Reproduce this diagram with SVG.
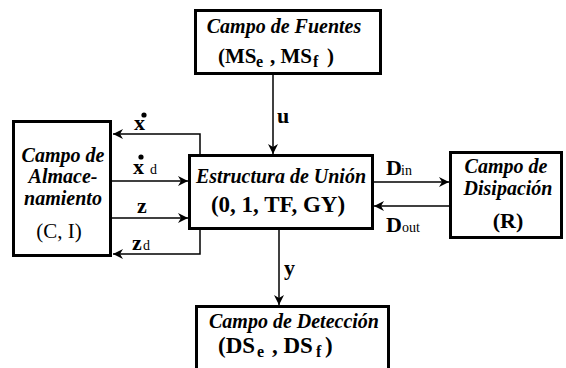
<svg xmlns="http://www.w3.org/2000/svg" width="566" height="368" viewBox="0 0 566 368">
<defs>
<style>
text{font-family:Liberation Serif,serif;fill:#000}
.box{fill:#fff;stroke:#000;stroke-width:3}
.con{fill:none;stroke:#000;stroke-width:1.5}
.ti{font-weight:bold;font-style:italic;font-size:20px}
.b{font-weight:bold;font-size:22px}
.r{font-size:21px}
.sub{font-size:14px}
.subb{font-weight:bold;font-size:16px}
</style>
<marker id="ah" markerUnits="userSpaceOnUse" markerWidth="10" markerHeight="10" refX="10" refY="5" orient="auto">
<path d="M0,0 L10,5 L0,10 L3,5 z" fill="#000"/>
</marker>
</defs>
<rect width="566" height="368" fill="#fff"/>
<g id="connectors" font-family="Liberation Serif">
<path class="con" d="M273,75 V154" marker-end="url(#ah)"/>
<path class="con" d="M279,229 V305" marker-end="url(#ah)"/>
<path class="con" d="M200,155 V134 H113" marker-end="url(#ah)"/>
<path class="con" d="M112,181 H188" marker-end="url(#ah)"/>
<path class="con" d="M112,218 H188" marker-end="url(#ah)"/>
<path class="con" d="M200,229 V254 H113" marker-end="url(#ah)"/>
<path class="con" d="M374,182 H449" marker-end="url(#ah)"/>
<path class="con" d="M449,206 H374" marker-end="url(#ah)"/>
<text class="b" x="277" y="123">u</text>
<text class="b" x="284" y="275">y</text>
<text class="b" x="134" y="130">x</text>
<circle cx="144" cy="115" r="2.6" fill="#000"/>
<text class="b" x="133" y="174">x</text>
<circle cx="141" cy="157" r="2.6" fill="#000"/>
<text class="sub" x="150" y="174">d</text>
<text class="b" x="137" y="213">z</text>
<text class="b" x="132" y="250">z</text>
<text class="sub" x="143" y="250">d</text>
<text class="b" x="386" y="175">D</text>
<text class="sub" x="401" y="175">in</text>
<text class="b" x="386" y="232">D</text>
<text class="sub" x="402" y="232">out</text>
</g>
<g id="fuentes" font-family="Liberation Serif">
<rect class="box" x="195.5" y="10.5" width="185" height="63"/>
<text class="ti" x="284" y="33" text-anchor="middle">Campo de Fuentes</text>
<text class="b" style="font-size:21px"><tspan x="218" y="63">(MS</tspan><tspan class="subb" x="256" y="67">e</tspan><tspan x="270" y="63">, MS</tspan><tspan class="subb" x="313" y="67">f</tspan><tspan x="327" y="63">)</tspan></text>
</g>
<g id="union" font-family="Liberation Serif">
<rect class="box" x="189.5" y="155.5" width="183" height="73"/>
<text class="ti" x="281" y="183" text-anchor="middle">Estructura de Unión</text>
<text class="b" x="278" y="212" text-anchor="middle" style="font-size:23px">(0, 1, TF, GY)</text>
</g>
<g id="almacenamiento" font-family="Liberation Serif">
<rect class="box" x="13.5" y="121.5" width="97" height="134"/>
<text class="ti" x="63" y="162" text-anchor="middle">Campo de</text>
<text class="ti" x="63" y="183" text-anchor="middle">Almace-</text>
<text class="ti" x="63" y="205" text-anchor="middle">namiento</text>
<text class="r" x="59" y="238" text-anchor="middle">(C, I)</text>
</g>
<g id="disipacion" font-family="Liberation Serif">
<rect class="box" x="450.5" y="152.5" width="111" height="85"/>
<text class="ti" x="506" y="173" text-anchor="middle">Campo de</text>
<text class="ti" x="508" y="195" text-anchor="middle">Disipación</text>
<text class="b" x="508" y="228" text-anchor="middle">(R)</text>
</g>
<g id="deteccion" font-family="Liberation Serif">
<rect class="box" x="196.5" y="306.5" width="192" height="70"/>
<text class="ti" x="294" y="328" text-anchor="middle">Campo de Detección</text>
<text class="b" style="font-size:23px"><tspan x="218" y="353">(DS</tspan><tspan class="subb" x="257" y="357">e</tspan><tspan x="272" y="353">, DS</tspan><tspan class="subb" x="316" y="357">f</tspan><tspan x="325" y="353">)</tspan></text>
</g>
</svg>
